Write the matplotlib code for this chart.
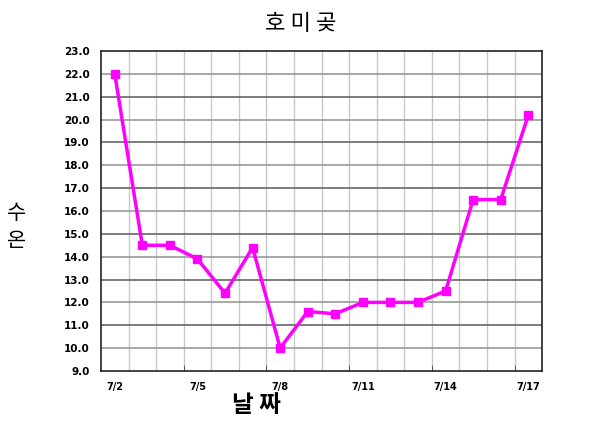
import matplotlib
matplotlib.use("Agg")
import matplotlib.pyplot as plt
import numpy as np

plt.rcParams['font.family'] = ['Noto Sans CJK KR', 'DejaVu Sans']

# data
dates = ['7/2', '7/3', '7/4', '7/5', '7/6', '7/7', '7/8', '7/9',
         '7/10', '7/11', '7/12', '7/13', '7/14', '7/15', '7/16', '7/17']
temps = [22.0, 14.5, 14.5, 13.9, 12.4, 14.4, 10.0, 11.6,
         11.5, 12.0, 12.0, 12.0, 12.5, 16.5, 16.5, 20.2]
yticks = np.arange(9.0, 23.01, 1.0)

fig = plt.figure(figsize=(6.01, 4.22), dpi=100)
ax = fig.add_axes([0.168, 0.121, 0.734, 0.758])

x = np.arange(len(dates))
ax.plot(x, temps, color='#ff00ff', linewidth=2.5, marker='s',
        markersize=6, zorder=3)

ax.set_xlim(-0.5, len(dates) - 0.5)
ax.set_ylim(9, 23)

# vertical grid at category boundaries, horizontal at each degree
for b in np.arange(0.5, len(dates) - 0.5, 1.0):
    ax.axvline(b, color='#c8c8c8', linewidth=1, zorder=1)
for i, v in enumerate(yticks[1:-1]):
    ax.axhline(v, color='#666666' if i % 2 else '#999999', linewidth=1.2, zorder=1)

ax.set_yticks(yticks)
ax.set_yticklabels([f'{v:.1f}' for v in yticks], fontsize=7.5,
                   fontweight='bold', family='DejaVu Sans')
ax.tick_params(axis='y', length=0, pad=8)

# labels every third day, tick marks on boundaries
ax.set_xticks(x[::3])
ax.set_xticklabels(dates[::3], fontsize=7, fontweight='bold', family='DejaVu Sans')
ax.tick_params(axis='x', length=0, pad=8)
ax.set_xticks(np.arange(2.5, len(dates) - 0.5, 3), minor=True)
ax.tick_params(axis='x', which='minor', length=4, direction='in', color='#444444')

for s in ax.spines.values():
    s.set_color('#222222')
    s.set_linewidth(1.2)

fig.text(0.5, 0.945, '호 미 곶', ha='center', va='center', fontsize=16)
fig.text(0.427, 0.04, '날 짜', ha='center', va='center', fontsize=17, fontweight='bold')
# y label stacked one syllable above the other
fig.text(0.027, 0.495, '수', ha='center', va='center', fontsize=15)
fig.text(0.027, 0.43, '온', ha='center', va='center', fontsize=15)

fig.savefig('out.png', dpi=100)
